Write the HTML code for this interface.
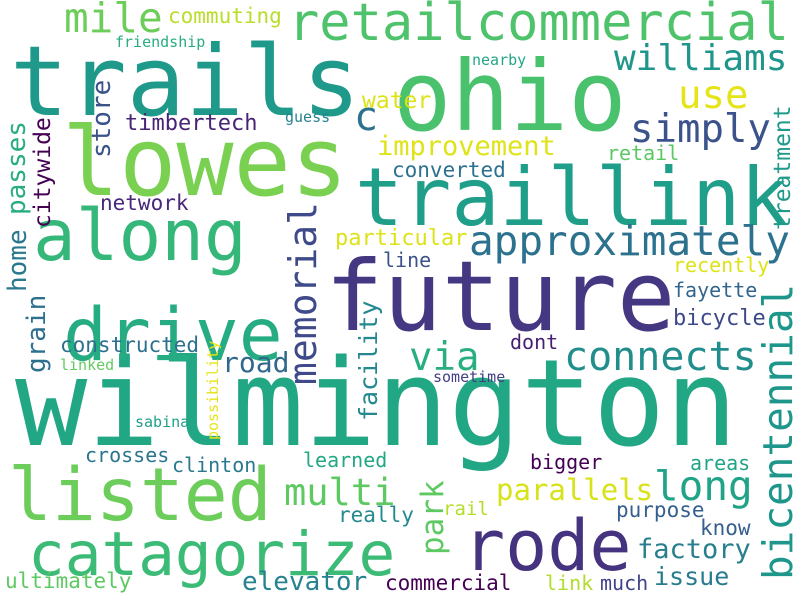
<!DOCTYPE html>
<html><head><meta charset="utf-8"><style>
html,body{margin:0;padding:0;background:#fff;}
svg{display:block;}
text{font-family:"DejaVu Sans Mono","Liberation Mono",monospace;}
</style></head><body>
<svg width="800" height="600" viewBox="0 0 800 600">
<rect width="800" height="600" fill="#fff"/>
<text x="15" y="445" font-size="120" fill="#22a785">wilmington</text>
<text x="325" y="330" font-size="97" fill="#453781">future</text>
<text x="10" y="115" font-size="97" fill="#1f9a8a">trails</text>
<text x="62" y="195" font-size="95" fill="#7ad151">lowes</text>
<text x="393" y="130" font-size="97" fill="#4ac16d">ohio</text>
<text x="355" y="225" font-size="80" fill="#1f9e89">traillink</text>
<text x="33" y="260" font-size="71" fill="#35b779">along</text>
<text x="63" y="360" font-size="73" fill="#25ac82">drive</text>
<text x="8" y="520" font-size="73" fill="#6ccd5a">listed</text>
<text x="463" y="570" font-size="70" fill="#46337f">rode</text>
<text x="28" y="575" font-size="61" fill="#3bbb75">catagorize</text>
<text x="288" y="40" font-size="52" fill="#4ec36b">retailcommercial</text>
<text x="469" y="255" font-size="41" fill="#2c728e">approximately</text>
<text x="564" y="370" font-size="40" fill="#228d8d">connects</text>
<text x="614" y="70" font-size="36" fill="#1f968b">williams</text>
<text x="678" y="108" font-size="39" fill="#e5e419">use</text>
<text x="630" y="142" font-size="39" fill="#3b528b">simply</text>
<text x="354" y="130" font-size="40" fill="#2c718e">c</text>
<text x="64" y="32" font-size="41" fill="#6ccd5a">mile</text>
<text x="284" y="505" font-size="37" fill="#5ec962">multi</text>
<text x="409" y="370" font-size="39" fill="#29af7f">via</text>
<text x="654" y="500" font-size="41" fill="#20a386">long</text>
<text x="496" y="500" font-size="29" fill="#d8e219">parallels</text>
<text x="637" y="558" font-size="27" fill="#277f8e">factory</text>
<text x="654" y="585" font-size="25" fill="#287c8e">issue</text>
<text x="242" y="590" font-size="26" fill="#26828e">elevator</text>
<text x="385" y="590" font-size="21" fill="#440154">commercial</text>
<text x="5" y="588" font-size="21" fill="#5ec962">ultimately</text>
<text x="85" y="462" font-size="20" fill="#2a768e">crosses</text>
<text x="172" y="472" font-size="20" fill="#2a788e">clinton</text>
<text x="303" y="467" font-size="20" fill="#22a884">learned</text>
<text x="530" y="469" font-size="20" fill="#440154">bigger</text>
<text x="690" y="470" font-size="20" fill="#20a486">areas</text>
<text x="338" y="522" font-size="21" fill="#238a8d">really</text>
<text x="443" y="515" font-size="19" fill="#b5de2b">rail</text>
<text x="616" y="517" font-size="21" fill="#355f8d">purpose</text>
<text x="700" y="535" font-size="21" fill="#355f8d">know</text>
<text x="545" y="590" font-size="20" fill="#b0dd2f">link</text>
<text x="600" y="590" font-size="20" fill="#404387">much</text>
<text x="222" y="372" font-size="28" fill="#31688e">road</text>
<text x="60" y="352" font-size="21" fill="#2d708e">constructed</text>
<text x="510" y="349" font-size="20" fill="#481f70">dont</text>
<text x="673" y="325" font-size="22" fill="#3e4989">bicycle</text>
<text x="673" y="297" font-size="20" fill="#31668e">fayette</text>
<text x="673" y="272" font-size="20" fill="#dde318">recently</text>
<text x="383" y="267" font-size="20" fill="#3b528b">line</text>
<text x="335" y="245" font-size="22" fill="#dde318">particular</text>
<text x="100" y="210" font-size="21" fill="#482878">network</text>
<text x="392" y="177" font-size="21" fill="#2c728e">converted</text>
<text x="607" y="160" font-size="20" fill="#5cc863">retail</text>
<text x="377" y="155" font-size="27" fill="#dfe318">improvement</text>
<text x="362" y="108" font-size="23" fill="#dde318">water</text>
<text x="125" y="130" font-size="22" fill="#482475">timbertech</text>
<text x="168" y="23" font-size="21" fill="#b8de29">commuting</text>
<text x="115" y="47" font-size="15" fill="#26ad81">friendship</text>
<text x="285" y="122" font-size="15" fill="#26828e">guess</text>
<text x="472" y="65" font-size="15" fill="#21a685">nearby</text>
<text x="433" y="382" font-size="15" fill="#433e85">sometime</text>
<text x="135" y="427" font-size="15" fill="#1fa088">sabina</text>
<text x="60" y="370" font-size="15" fill="#63cb5f">linked</text>
<text transform="translate(792,580) rotate(-90)" font-size="41" fill="#1f968b">bicentennial</text>
<text transform="translate(316,385) rotate(-90)" font-size="38" fill="#3e4a89">memorial</text>
<text transform="translate(443,555) rotate(-90)" font-size="31" fill="#5ec962">park</text>
<text transform="translate(377,421) rotate(-90)" font-size="25" fill="#23898e">facility</text>
<text transform="translate(790,230) rotate(-90)" font-size="23" fill="#1f9a8a">treatment</text>
<text transform="translate(26,292) rotate(-90)" font-size="26" fill="#2a788e">home</text>
<text transform="translate(25,215) rotate(-90)" font-size="26" fill="#27ad81">passes</text>
<text transform="translate(45,373) rotate(-90)" font-size="26" fill="#2d708e">grain</text>
<text transform="translate(110,158) rotate(-90)" font-size="26" fill="#3b528b">store</text>
<text transform="translate(50,228) rotate(-90)" font-size="23" fill="#440154">citywide</text>
<text transform="translate(218,440) rotate(-90)" font-size="15" fill="#e5e419">possibility</text>
</svg>
</body></html>
